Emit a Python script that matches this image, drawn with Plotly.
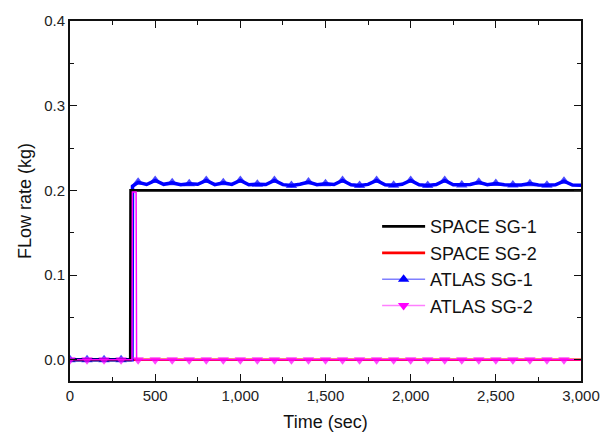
import plotly.graph_objects as go

# ---- data ----
space1_t = [0, 354, 356, 3000]
space1_v = [0.0, 0.0, 0.200, 0.200]

space2_t = [0, 3000]
space2_v = [0.0, 0.0]

atlas1_t = [0, 100, 200, 300, 364, 367,
            400, 450, 500, 550, 600, 650, 700, 750, 800, 850, 900, 950, 1000, 1050,
            1100, 1150, 1200, 1250, 1300, 1350, 1400, 1450, 1500, 1550, 1600, 1650,
            1700, 1750, 1800, 1850, 1900, 1950, 2000, 2050, 2100, 2150, 2200, 2250,
            2300, 2350, 2400, 2450, 2500, 2550, 2600, 2650, 2700, 2750, 2800, 2850,
            2900, 2950, 3000]
atlas1_v = [0.0, 0.0, 0.0, 0.0, 0.0, 0.205,
            0.2095, 0.2070, 0.2118, 0.2072, 0.2090, 0.2066, 0.2078, 0.2072, 0.2118, 0.2068,
            0.2090, 0.2071, 0.2118, 0.2066, 0.2074, 0.2070, 0.2118, 0.2068, 0.2058, 0.2072,
            0.2098, 0.2068, 0.2078, 0.2070, 0.2118, 0.2067, 0.2057, 0.2071, 0.2118, 0.2066,
            0.2060, 0.2072, 0.2118, 0.2067, 0.2057, 0.2070, 0.2118, 0.2066, 0.2064, 0.2070,
            0.2096, 0.2067, 0.2082, 0.2066, 0.2064, 0.2065, 0.2080, 0.2064, 0.2060, 0.2066,
            0.2108, 0.2064, 0.2062]

atlas2_t = [0, 100, 200, 300, 364, 366, 388, 391,
            400, 500, 600, 700, 800, 900, 1000, 1100, 1200, 1300, 1400, 1500, 1600,
            1700, 1800, 1900, 2000, 2100, 2200, 2300, 2400, 2500, 2600, 2700, 2800,
            2900, 3000]
atlas2_v = [0.0, 0.0, 0.0, 0.0, 0.0, 0.198, 0.198, 0.0,
            0.0, 0.0, 0.0, 0.0, 0.0, 0.0, 0.0, 0.0, 0.0, 0.0, 0.0, 0.0, 0.0,
            0.0, 0.0, 0.0, 0.0, 0.0, 0.0, 0.0, 0.0, 0.0, 0.0, 0.0, 0.0,
            0.0, 0.0]

marker_every = 100
marker_last = 2900

def marker_sizes(ts, size):
    return [size if (t % marker_every == 0 and t <= marker_last) else 0 for t in ts]

BLUE = "#0000ff"
MAG = "#ff00ff"
FONT = "Arial, Liberation Sans, sans-serif"
AX = "#111111"

fig = go.Figure()

fig.add_trace(go.Scatter(x=space2_t, y=space2_v, mode="lines",
                         line=dict(color="#ff0000", width=2.5),
                         showlegend=False))
fig.add_trace(go.Scatter(x=atlas1_t, y=atlas1_v, mode="lines+markers",
                         line=dict(color=BLUE, width=3.5),
                         marker=dict(symbol="triangle-up", color=BLUE,
                                     size=marker_sizes(atlas1_t, 10), line=dict(width=0)),
                         showlegend=False))
fig.add_trace(go.Scatter(x=space1_t, y=space1_v, mode="lines",
                         line=dict(color="#000000", width=2.8),
                         showlegend=False))
fig.add_trace(go.Scatter(x=atlas2_t, y=atlas2_v, mode="lines+markers",
                         line=dict(color=MAG, width=1.5),
                         marker=dict(symbol="triangle-down", color=MAG,
                                     size=marker_sizes(atlas2_t, 10), line=dict(width=0)),
                         showlegend=False))

# legend entries
fig.add_trace(go.Scatter(x=[None], y=[None], mode="lines", name="SPACE SG-1",
                         line=dict(color="#000000", width=2.8)))
fig.add_trace(go.Scatter(x=[None], y=[None], mode="lines", name="SPACE SG-2",
                         line=dict(color="#ff0000", width=2.8)))
fig.add_trace(go.Scatter(x=[None], y=[None], mode="lines+markers", name="ATLAS SG-1",
                         line=dict(color="#7f7fff", width=1.5),
                         marker=dict(symbol="triangle-up", color=BLUE, size=10)))
fig.add_trace(go.Scatter(x=[None], y=[None], mode="lines+markers", name="ATLAS SG-2",
                         line=dict(color="#ff7fff", width=1.5),
                         marker=dict(symbol="triangle-down", color=MAG, size=10)))

axis_common = dict(showgrid=False, zeroline=False, showline=True,
                   linecolor=AX, linewidth=2, mirror="allticks",
                   ticks="inside", ticklen=7, tickwidth=1.2, tickcolor=AX,
                   tickfont=dict(family=FONT, size=15, color="#222222"),
                   title_font=dict(family=FONT, size=18, color="#111111"))

fig.update_xaxes(range=[0, 3000], dtick=500, tickformat=",d", ticklabeloverflow="allow",
                 minor=dict(dtick=250, ticks="inside", ticklen=4, tickwidth=1.2,
                            tickcolor=AX),
                 title_text="Time (sec)", title_standoff=12, **axis_common)
fig.update_yaxes(range=[-0.025, 0.4], dtick=0.1, tick0=0, tickformat=".1f",
                 minor=dict(dtick=0.05, tick0=0, ticks="inside", ticklen=4, tickwidth=1.2,
                            tickcolor=AX),
                 title_text="FLow rate (kg)", title_standoff=8, **axis_common)

fig.update_layout(
    width=612, height=441,
    margin=dict(l=70, r=28, t=15, b=57),
    plot_bgcolor="white", paper_bgcolor="white",
    font=dict(family=FONT, color="#111111"),
    legend=dict(x=0.601, y=0.48, xanchor="left", yanchor="top",
                bgcolor="rgba(0,0,0,0)", borderwidth=0,
                font=dict(family=FONT, size=18, color="#111111"),
                itemwidth=43, tracegroupgap=0),
)

fig.write_html("out.html", config={"displayModeBar": False},
               post_script="document.body.style.margin='0';document.body.style.overflow='hidden';")
